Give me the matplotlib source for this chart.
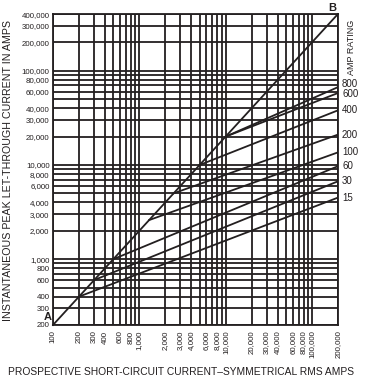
import matplotlib.pyplot as plt
import numpy as np

# data
ab_x = [100, 200000]          # threshold line A-B
ab_y = [200, 400000]
ratings = ['800', '600', '400', '200', '100', '60', '30', '15']
knee_x = [10000, 10000, 5000, 2500, 1300, 500, 300, 200]
knee_y = [20000, 20000, 10000, 5000, 2600, 1000, 600, 400]
end_x = 200000
end_y = [67000, 58000, 38000, 21000, 13600, 9700, 6700, 4500]

x_labels = [100, 200, 300, 400, 600, 800, 1000, 2000, 3000, 4000, 6000, 8000,
            10000, 20000, 30000, 40000, 60000, 80000, 100000, 200000]
y_labels = [200, 300, 400, 600, 800, 1000, 2000, 3000, 4000, 6000, 8000,
            10000, 20000, 30000, 40000, 60000, 80000, 100000, 200000, 300000, 400000]

plt.rcParams['font.family'] = ['Liberation Sans', 'DejaVu Sans']
ink = '#231f20'

fig = plt.figure(figsize=(3.69, 3.81), dpi=100)
ax = fig.add_axes([0.1436, 0.147, 0.772, 0.816])
ax.set_xscale('log')
ax.set_yscale('log')
ax.set_xlim(100, 200000)
ax.set_ylim(200, 400000)

# grid at every integer multiple of each decade
xg = [m * 10**d for d in range(2, 6) for m in range(1, 10) if 100 <= m * 10**d <= 200000]
yg = [m * 10**d for d in range(2, 6) for m in range(1, 10) if 200 <= m * 10**d <= 400000]
ax.set_xticks(xg)
ax.set_xticklabels([f'{v:,}' if v in x_labels else '' for v in xg])
ax.set_yticks(yg)
ax.set_yticklabels([f'{v:,}' if v in y_labels else '' for v in yg])
ax.minorticks_off()
ax.grid(True, which='major', color=ink, lw=1.3)
ax.tick_params(length=0, labelsize=5.7, colors=ink)
ax.tick_params(axis='x', rotation=90, pad=4)
ax.tick_params(axis='y', pad=2.5)
for s in ax.spines.values():
    s.set_color(ink)
    s.set_linewidth(1.3)

# threshold line and fuse let-through lines
ax.plot(ab_x, ab_y, color=ink, lw=1.3, clip_on=False)
for kx, ky, ey in zip(knee_x, knee_y, end_y):
    ax.plot([kx, end_x], [ky, ey], color=ink, lw=1.3)

# amp rating labels at the right edge
nudge = {'800': 2, '600': -1}
for r, ey in zip(ratings, end_y):
    ax.annotate(r, (1.0, ey), xycoords=ax.get_yaxis_transform(),
                xytext=(3, nudge.get(r, 0)), textcoords='offset points',
                ha='left', va='center', fontsize=7, color=ink)
ax.text(1.049, 0.892, 'AMP RATING', transform=ax.transAxes, rotation=90,
        ha='center', va='center', fontsize=6.5, color=ink)

ax.text(-0.005, 0.01, 'A', transform=ax.transAxes, ha='right', va='bottom',
        fontsize=8, fontweight='bold', color=ink)
ax.text(0.982, 1.005, 'B', transform=ax.transAxes, ha='center', va='bottom',
        fontsize=8, fontweight='bold', color=ink)

fig.text(0.022, 0.553, 'INSTANTANEOUS PEAK LET-THROUGH CURRENT IN AMPS',
         rotation=90, ha='center', va='center', fontsize=7.7, color=ink)
fig.text(0.49, 0.024, 'PROSPECTIVE SHORT-CIRCUIT CURRENT\u2013SYMMETRICAL RMS AMPS',
         ha='center', va='center', fontsize=7.4, color=ink)

fig.savefig('out.png', dpi=100, facecolor='white')
